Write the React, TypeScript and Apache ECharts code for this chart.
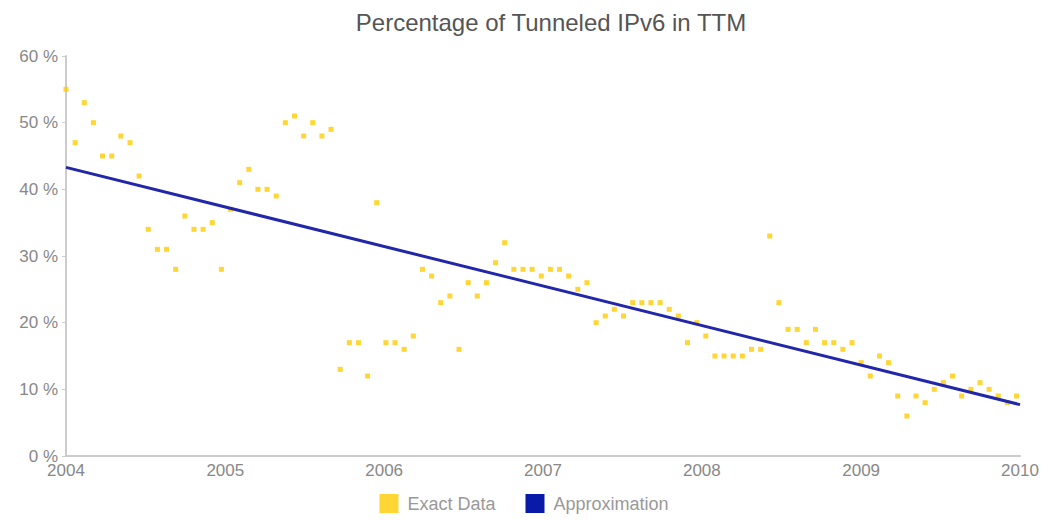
import React, { useEffect, useRef } from "react";
import * as echarts from "echarts";

const dates: string[] = [
  "2004-01-01", "2004-01-22", "2004-02-12", "2004-03-04", "2004-03-25", "2004-04-15", "2004-05-06", "2004-05-27", "2004-06-17", "2004-07-08",
  "2004-07-29", "2004-08-19", "2004-09-09", "2004-09-30", "2004-10-21", "2004-11-11", "2004-12-02", "2004-12-23", "2005-01-13", "2005-02-03",
  "2005-02-24", "2005-03-17", "2005-04-07", "2005-04-28", "2005-05-19", "2005-06-09", "2005-06-30", "2005-07-21", "2005-08-11", "2005-09-01",
  "2005-09-22", "2005-10-13", "2005-11-03", "2005-11-24", "2005-12-15", "2006-01-05", "2006-01-26", "2006-02-16", "2006-03-09", "2006-03-30",
  "2006-04-20", "2006-05-11", "2006-06-01", "2006-06-22", "2006-07-13", "2006-08-03", "2006-08-24", "2006-09-14", "2006-10-05", "2006-10-26",
  "2006-11-16", "2006-12-07", "2006-12-28", "2007-01-18", "2007-02-08", "2007-03-01", "2007-03-22", "2007-04-12", "2007-05-03", "2007-05-24",
  "2007-06-14", "2007-07-05", "2007-07-26", "2007-08-16", "2007-09-06", "2007-09-27", "2007-10-18", "2007-11-08", "2007-11-29", "2007-12-20",
  "2008-01-10", "2008-01-31", "2008-02-21", "2008-03-13", "2008-04-03", "2008-04-24", "2008-05-15", "2008-06-05", "2008-06-26", "2008-07-17",
  "2008-08-07", "2008-08-28", "2008-09-18", "2008-10-09", "2008-10-30", "2008-11-20", "2008-12-11", "2009-01-01", "2009-01-22", "2009-02-12",
  "2009-03-05", "2009-03-26", "2009-04-16", "2009-05-07", "2009-05-28", "2009-06-18", "2009-07-09", "2009-07-30", "2009-08-20", "2009-09-10",
  "2009-10-01", "2009-10-22", "2009-11-12", "2009-12-03", "2009-12-24",
];

const exactData: number[] = [
  55, 47, 53, 50, 45, 45, 48, 47, 42, 34,
  31, 31, 28, 36, 34, 34, 35, 28, 37, 41,
  43, 40, 40, 39, 50, 51, 48, 50, 48, 49,
  13, 17, 17, 12, 38, 17, 17, 16, 18, 28,
  27, 23, 24, 16, 26, 24, 26, 29, 32, 28,
  28, 28, 27, 28, 28, 27, 25, 26, 20, 21,
  22, 21, 23, 23, 23, 23, 22, 21, 17, 20,
  18, 15, 15, 15, 15, 16, 16, 33, 23, 19,
  19, 17, 19, 17, 17, 16, 17, 14, 12, 15,
  14, 9, 6, 9, 8, 10, 11, 12, 9, 10,
  11, 10, 9, 8, 9,
];

const approxDates: string[] = ["2004-01-01", "2010-01-01"];
const approxValues: number[] = [43.3, 7.7];

const yTicks: number[] = [0, 10, 20, 30, 40, 50, 60];

export default function App() {
  const ref = useRef<HTMLDivElement>(null);
  useEffect(() => {
    if (!ref.current) return;
    const chart = echarts.init(ref.current, null, { renderer: "svg" });
    const font = "'Liberation Sans', Arial, Helvetica, sans-serif";
    chart.setOption({
      animation: false,
      backgroundColor: "#ffffff",
      textStyle: { fontFamily: font },
      title: {
        text: "Percentage of Tunneled IPv6 in TTM",
        left: 546,
        textAlign: "center",
        top: 5,
        textStyle: { fontFamily: font, fontSize: 24, fontWeight: "normal", color: "#555555" },
      },
      legend: {
        bottom: 2,
        left: "center",
        icon: "rect",
        itemWidth: 19,
        itemHeight: 19,
        itemGap: 30,
        textStyle: { fontFamily: font, fontSize: 18, color: "#999999", padding: [0, 0, 0, 4] },
        data: ["Exact Data", "Approximation"],
      },
      grid: { left: 66, right: 28, top: 56, bottom: 64, containLabel: false },
      xAxis: {
        type: "time",
        min: "2004-01-01",
        max: "2010-01-01",
        minInterval: 365 * 24 * 3600 * 1000,
        splitNumber: 6,
        axisLine: { show: true, lineStyle: { color: "#cccccc", width: 2 } },
        axisTick: { show: false },
        splitLine: { show: false },
        axisLabel: {
          formatter: "{yyyy}",
          color: "#888888",
          fontSize: 17,
          fontFamily: font,
          margin: 6,
          showMinLabel: true,
          showMaxLabel: true,
          hideOverlap: false,
        },
      },
      yAxis: {
        type: "value",
        min: yTicks[0],
        max: yTicks[yTicks.length - 1],
        interval: 10,
        axisLine: { show: true, lineStyle: { color: "#cccccc", width: 2 } },
        axisTick: { show: true, length: 4, lineStyle: { color: "#cccccc", width: 1 } },
        splitLine: { show: false },
        axisLabel: {
          formatter: "{value} %",
          color: "#888888",
          fontSize: 17,
          fontFamily: font,
          margin: 8,
        },
      },
      series: [
        {
          name: "Exact Data",
          type: "scatter",
          symbol: "rect",
          symbolSize: 5,
          itemStyle: { color: "#FFCC00" },
          emphasis: { disabled: true },
          data: dates.map((d, i) => [d, exactData[i]]),
          z: 3,
        },
        {
          name: "Approximation",
          type: "line",
          symbol: "none",
          lineStyle: { width: 3, color: "#2226a8" },
          itemStyle: { color: "#0a1aa8" },
          emphasis: { disabled: true },
          data: approxDates.map((d, i) => [d, approxValues[i]]),
          z: 4,
        },
      ],
    });
    return () => chart.dispose();
  }, []);
  return (
    <div
      ref={ref}
      style={{ position: "absolute", left: 0, top: 0, width: 1048, height: 520 }}
    />
  );
}
